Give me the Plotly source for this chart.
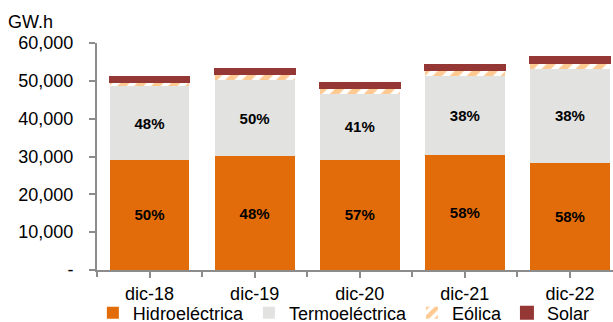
import plotly.graph_objects as go

categories = ["dic-18", "dic-19", "dic-20", "dic-21", "dic-22"]
hidro = [29100, 30100, 29100, 30400, 28300]
termo = [19500, 20100, 17400, 21000, 24900]
eolica = [1100, 1500, 1600, 1500, 1600]
solar = [1300, 1300, 1300, 1300, 1400]
hidro_pct = ["50%", "48%", "57%", "58%", "58%"]
termo_pct = ["48%", "50%", "41%", "38%", "38%"]
y_ticks = [0, 10000, 20000, 30000, 40000, 50000, 60000]
y_ticktext = ["-", "10,000", "20,000", "30,000", "40,000", "50,000", "60,000"]

FONT = "Liberation Sans, Arial, sans-serif"
fig = go.Figure()
fig.add_trace(go.Bar(
    x=categories, y=hidro, name="Hidroeléctrica", text=hidro_pct,
    textposition="inside", insidetextanchor="middle",
    textfont=dict(family=FONT, size=15, color="black", weight="bold"),
    marker=dict(color="#E36C0A", line=dict(width=0)),
))
fig.add_trace(go.Bar(
    x=categories, y=termo, name="Termoeléctrica", text=termo_pct,
    textposition="inside", insidetextanchor="middle",
    textfont=dict(family=FONT, size=15, color="black", weight="bold"),
    marker=dict(color="#E2E2E1", line=dict(width=0)),
))
fig.add_trace(go.Bar(
    x=categories, y=eolica, name="Eólica",
    marker=dict(color="white", line=dict(width=0),
                pattern=dict(shape="/", fgcolor="#FF9326", bgcolor="white",
                             size=12, solidity=0.55)),
))
fig.add_trace(go.Bar(
    x=categories, y=solar, name="Solar",
    marker=dict(color="#953735", line=dict(width=2, color="#953735")),
))

fig.update_layout(
    barmode="stack", bargap=0.24,
    width=613, height=322,
    margin=dict(l=97, r=0, t=43, b=52, autoexpand=False),
    plot_bgcolor="white", paper_bgcolor="white",
    font=dict(family=FONT, size=18, color="black"),
    showlegend=True,
    legend=dict(orientation="h", x=-0.008, xanchor="left", y=-0.108, yanchor="top",
                font=dict(size=18), bgcolor="rgba(0,0,0,0)", itemwidth=30,
                traceorder="normal", itemclick=False),
    xaxis=dict(type="category", range=[-0.5, 4.41], showline=True,
               linecolor="#8C8C8C", linewidth=2, ticks="outside", ticklen=6,
               tickcolor="#8C8C8C", tickwidth=2, showgrid=False,
               tickfont=dict(size=18)),
    xaxis2=dict(type="category", overlaying="x", matches="x", side="bottom",
                tickson="boundaries", ticks="outside", ticklen=6,
                tickcolor="#8C8C8C", tickwidth=2, showticklabels=False,
                showgrid=False, showline=False),
    yaxis=dict(range=[0, 60000], tickvals=y_ticks, ticktext=y_ticktext,
               showline=True, linecolor="#8C8C8C", linewidth=2,
               ticks="outside", ticklen=6, tickcolor="#8C8C8C", tickwidth=2,
               showgrid=False, zeroline=False, tickfont=dict(size=18),
               ticklabelstandoff=12),
)
fig.add_trace(go.Bar(x=categories, y=[0]*5, xaxis="x2", showlegend=False,
                     hoverinfo="skip", marker=dict(color="rgba(0,0,0,0)")))
fig.add_annotation(text="GW.h", xref="paper", yref="paper", x=-0.176, y=1.0,
                   xanchor="left", yanchor="bottom", yshift=9, showarrow=False,
                   font=dict(size=18))

fig.write_html("out.html", config={"displayModeBar": False},
               post_script="document.body.style.margin='0px';"
                           "document.body.style.overflow='hidden';")
